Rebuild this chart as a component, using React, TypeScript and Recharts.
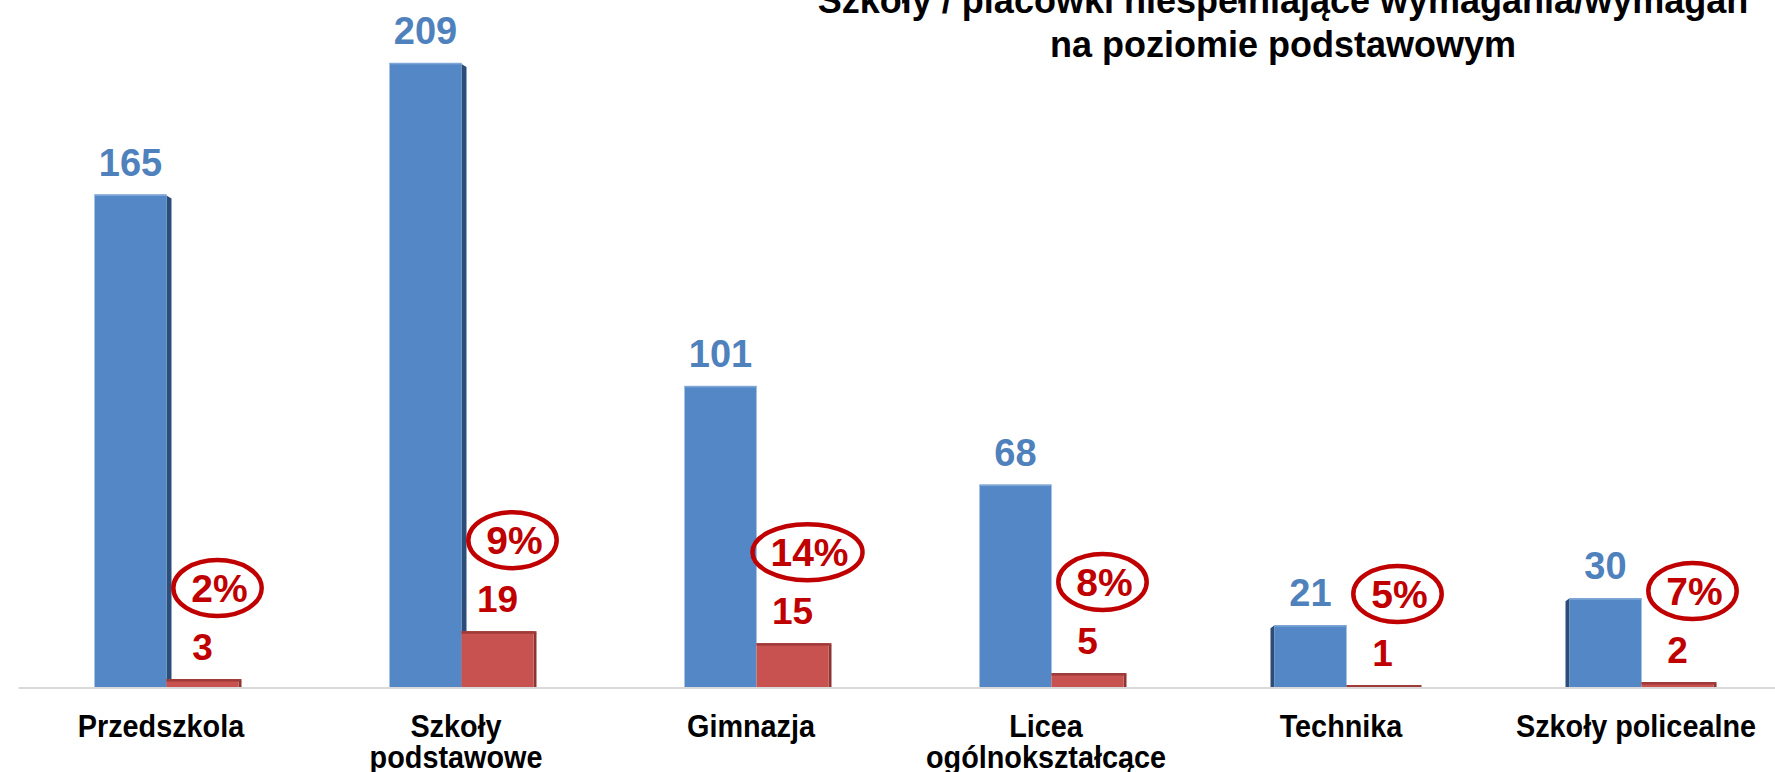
import React from "react";
import { BarChart, Bar, XAxis, YAxis, LabelList } from "recharts";

const categories = [
  "Przedszkola",
  "Szkoły\npodstawowe",
  "Gimnazja",
  "Licea\nogólnokształcące",
  "Technika",
  "Szkoły policealne",
];
const schoolsTotal = [165, 209, 101, 68, 21, 30];
const schoolsBasic = [3, 19, 15, 5, 1, 2];
const basicPercent = [2, 9, 14, 8, 5, 7];
const titleLines = ["Szkoły / placówki niespełniające wymagania/wymagań", "na poziomie podstawowym"];

const data = categories.map((c, i) => ({
  category: c,
  total: schoolsTotal[i],
  basic: schoolsBasic[i],
  pct: basicPercent[i],
}));

const BLUE = "#5387C5";
const BLUE_DARK = "#2C4C7A";
const RED = "#C8524F";
const RED_DARK = "#8E3432";
const LABEL_BLUE = "#4F81BD";
const LABEL_RED = "#C00000";
const FONT = "'Liberation Sans', Arial, sans-serif";

const BlueShape = (props: any) => {
  const { x, y, width, height } = props;
  if (height <= 0) return null;
  const cx = x + width / 2;
  let side = null;
  if (cx < 600) {
    side = (
      <polygon
        points={`${x + width},${y + 1} ${x + width + 5},${y + 4} ${x + width + 5},${y + height} ${x + width},${y + height}`}
        fill={BLUE_DARK}
      />
    );
  } else if (cx > 1200) {
    side = (
      <polygon
        points={`${x},${y} ${x - 4},${y + 3} ${x - 4},${y + height} ${x},${y + height}`}
        fill={BLUE_DARK}
      />
    );
  }
  return (
    <g>
      {side}
      <rect x={x} y={y} width={width} height={height} fill={BLUE} />
      <rect x={x} y={y} width={width} height={1.5} fill="#7FA6D6" />
    </g>
  );
};

const RedShape = (props: any) => {
  const { x, y, width, height } = props;
  if (height <= 0) return null;
  return (
    <g>
      <polygon
        points={`${x + width},${y} ${x + width + 3},${y + 2} ${x + width + 3},${y + height} ${x + width},${y + height}`}
        fill={RED_DARK}
      />
      <rect x={x} y={y} width={width} height={height} fill={RED} />
      <rect x={x} y={y} width={width + 3} height={Math.min(2.5, height)} fill="#9E3B39" />
    </g>
  );
};

const BlueValueLabel = (props: any) => {
  const { x, y, width, value } = props;
  return (
    <text
      x={x + width / 2}
      y={y - 19}
      textAnchor="middle"
      fontFamily={FONT}
      fontWeight="bold"
      fontSize={38}
      fill={LABEL_BLUE}
    >
      {value}
    </text>
  );
};

const RedValueLabel = (props: any) => {
  const { x, y, width, value } = props;
  return (
    <text
      x={x + width / 2}
      y={y - 19}
      textAnchor="middle"
      fontFamily={FONT}
      fontWeight="bold"
      fontSize={37}
      fill={LABEL_RED}
    >
      {value}
    </text>
  );
};

const PercentBadge = (props: any) => {
  const { x, y, width, value } = props;
  const txt = `${value}%`;
  const digits = String(value).length;
  const fs = 39;
  const tw = (digits * 0.556 + 0.889) * fs;
  const cx = x + width / 2 + 15;
  const cy = y - 91;
  return (
    <g>
      <ellipse cx={cx} cy={cy} rx={tw / 2 + 16} ry={28} fill="none" stroke={LABEL_RED} strokeWidth={4.5} />
      <text
        x={cx + 2}
        y={cy + 14}
        textAnchor="middle"
        fontFamily={FONT}
        fontWeight="bold"
        fontSize={fs}
        fill={LABEL_RED}
      >
        {txt}
      </text>
    </g>
  );
};

const CategoryTick = (props: any) => {
  const { x, y, payload } = props;
  const lines = String(payload.value).split("\n");
  return (
    <g transform={`translate(${x - 5},${y})`}>
      {lines.map((l, i) => (
        <text
          key={i}
          x={0}
          y={41 + i * 31}
          transform="scale(0.9,1)"
          textAnchor="middle"
          fontFamily={FONT}
          fontWeight="bold"
          fontSize={32}
          fill="#000"
        >
          {l}
        </text>
      ))}
    </g>
  );
};

export default function App() {
  return (
    <div
      style={{
        position: "fixed",
        left: 0,
        top: 0,
        width: 1775,
        height: 772,
        overflow: "hidden",
        background: "#fff",
      }}
    >
      <BarChart
        width={1800}
        height={772}
        data={data}
        margin={{ top: 30, right: 11.5, left: 18.5, bottom: 0 }}
        barGap={0}
        barSize={72}
      >
        <XAxis
          dataKey="category"
          interval={0}
          height={84}
          tickLine={false}
          axisLine={{ stroke: "#D9D9D9", strokeWidth: 2 }}
          tick={<CategoryTick />}
        />
        <YAxis hide domain={[0, 220]} />
        <Bar dataKey="total" isAnimationActive={false} shape={<BlueShape />}>
          <LabelList dataKey="total" content={<BlueValueLabel />} />
        </Bar>
        <Bar dataKey="basic" isAnimationActive={false} shape={<RedShape />}>
          <LabelList dataKey="basic" content={<RedValueLabel />} />
          <LabelList dataKey="pct" content={<PercentBadge />} />
        </Bar>
      </BarChart>
      <svg
        width={1775}
        height={80}
        style={{ position: "absolute", left: 0, top: 0, overflow: "visible" }}
      >
        {titleLines.map((t, i) => (
          <text
            key={i}
            x={1283}
            y={13 + i * 44}
            textAnchor="middle"
            fontFamily={FONT}
            fontWeight="bold"
            fontSize={36}
            fill="#000"
          >
            {t}
          </text>
        ))}
      </svg>
    </div>
  );
}
